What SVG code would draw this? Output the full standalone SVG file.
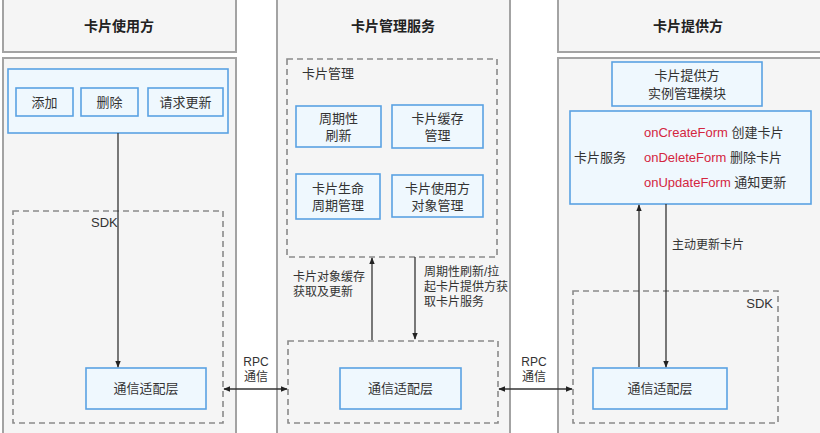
<svg xmlns="http://www.w3.org/2000/svg" width="820" height="433" viewBox="0 0 820 433">
<defs>
<marker id="ah" viewBox="0 0 10 10" refX="9" refY="5" markerWidth="7" markerHeight="7" orient="auto-start-reverse" markerUnits="userSpaceOnUse"><path d="M0,1 L10,5 L0,9 Z" fill="#222"/></marker>
<style>
.outer{fill:#f5f5f5;stroke:#a3a3a3;stroke-width:2}
.dash{fill:none;stroke:#8a8a8a;stroke-width:1.6;stroke-dasharray:6 4}
.blue{fill:#eff8fe;stroke:#5aa2e3;stroke-width:1.6}
text{font-family:"Liberation Sans","Noto Sans CJK SC",sans-serif;fill:#333;font-size:13px}
.t{text-anchor:middle}
.h{font-weight:bold;font-size:14px;fill:#222}
.s{font-size:12px}
.r{fill:#d4263f}
.ln{stroke:#333;stroke-width:1.3;fill:none}
</style>
</defs>
<g id="user-header"><rect class="outer" x="3" y="-2" width="233" height="54"/><text class="t h" x="119" y="31">卡片使用方</text></g>
<g id="user-body"><rect class="outer" x="3" y="58" width="233" height="380"/></g>
<g id="user-ops"><rect class="blue" x="8" y="69" width="220" height="64"/></g>
<g id="add"><rect class="blue" x="16" y="88" width="57" height="28"/><text class="t" x="44.5" y="107">添加</text></g>
<g id="del"><rect class="blue" x="81" y="88" width="57" height="28"/><text class="t" x="109.5" y="107">删除</text></g>
<g id="req"><rect class="blue" x="148" y="88" width="75" height="28"/><text class="t" x="185.5" y="107">请求更新</text></g>
<g id="sdk-left"><rect class="dash" x="13" y="211" width="210" height="212"/><text x="91" y="227">SDK</text></g>
<g id="comm-left"><rect class="blue" x="86" y="368" width="120" height="41"/><text class="t" x="146" y="393">通信适配层</text></g>

<g id="mgr-service"><rect class="outer" x="277" y="-2" width="233" height="440"/><text class="t h" x="393" y="31">卡片管理服务</text></g>
<g id="card-mgr"><rect class="dash" x="287" y="59" width="210" height="198"/><text x="302" y="78">卡片管理</text></g>
<g id="periodic"><rect class="blue" x="296" y="106" width="85" height="41"/><text class="t" x="338.5" y="123">周期性</text><text class="t" x="338.5" y="140">刷新</text></g>
<g id="cache"><rect class="blue" x="392" y="105" width="91" height="43"/><text class="t" x="437.5" y="123">卡片缓存</text><text class="t" x="437.5" y="140">管理</text></g>
<g id="lifecycle"><rect class="blue" x="296" y="174" width="84" height="45"/><text class="t" x="338" y="193">卡片生命</text><text class="t" x="338" y="210">周期管理</text></g>
<g id="userobj"><rect class="blue" x="392" y="175" width="91" height="42"/><text class="t" x="437.5" y="193">卡片使用方</text><text class="t" x="437.5" y="210">对象管理</text></g>
<g id="mgr-sdk"><rect class="dash" x="288" y="341" width="210" height="82"/></g>
<g id="comm-mid"><rect class="blue" x="340" y="368" width="121" height="41"/><text class="t" x="400.5" y="393">通信适配层</text></g>

<g id="prov-header"><rect class="outer" x="558" y="-2" width="263" height="54"/><text class="t h" x="688" y="31">卡片提供方</text></g>
<g id="prov-body"><rect class="outer" x="558" y="58" width="263" height="380"/></g>
<g id="inst-mgr"><rect class="blue" x="612" y="62" width="150" height="44"/><text class="t" x="687" y="80">卡片提供方</text><text class="t" x="687" y="98">实例管理模块</text></g>
<g id="card-svc"><rect class="blue" x="570" y="111" width="241" height="93"/>
<text x="574" y="162">卡片服务</text>
<text x="644" y="137"><tspan class="r">onCreateForm</tspan> 创建卡片</text>
<text x="644" y="162"><tspan class="r">onDeleteForm</tspan> 删除卡片</text>
<text x="644" y="187"><tspan class="r">onUpdateForm</tspan> 通知更新</text>
</g>
<g id="sdk-right"><rect class="dash" x="573" y="291" width="205" height="132"/><text x="773" y="308" text-anchor="end">SDK</text></g>
<g id="comm-right"><rect class="blue" x="593" y="368" width="134" height="41"/><text class="t" x="660" y="393">通信适配层</text></g>

<g id="connectors">
<line class="ln" x1="118" y1="133" x2="118" y2="367" marker-end="url(#ah)"/>
<line class="ln" x1="224" y1="389" x2="287" y2="389" marker-start="url(#ah)" marker-end="url(#ah)"/>
<text class="t s" x="256" y="366">RPC</text><text class="t s" x="256" y="381">通信</text>
<line class="ln" x1="372" y1="340" x2="372" y2="258" marker-end="url(#ah)"/>
<text class="s" x="293" y="281">卡片对象缓存</text><text class="s" x="293" y="296">获取及更新</text>
<line class="ln" x1="415" y1="257" x2="415" y2="339" marker-end="url(#ah)"/>
<text class="s" x="424" y="276">周期性刷新/拉</text><text class="s" x="424" y="291">起卡片提供方获</text><text class="s" x="424" y="306">取卡片服务</text>
<line class="ln" x1="499" y1="389" x2="572" y2="389" marker-start="url(#ah)" marker-end="url(#ah)"/>
<text class="t s" x="534" y="366">RPC</text><text class="t s" x="534" y="381">通信</text>
<line class="ln" x1="639" y1="367" x2="639" y2="205" marker-end="url(#ah)"/>
<line class="ln" x1="666" y1="204" x2="666" y2="367" marker-end="url(#ah)"/>
<text class="s" x="672" y="249">主动更新卡片</text>
</g>
</svg>
